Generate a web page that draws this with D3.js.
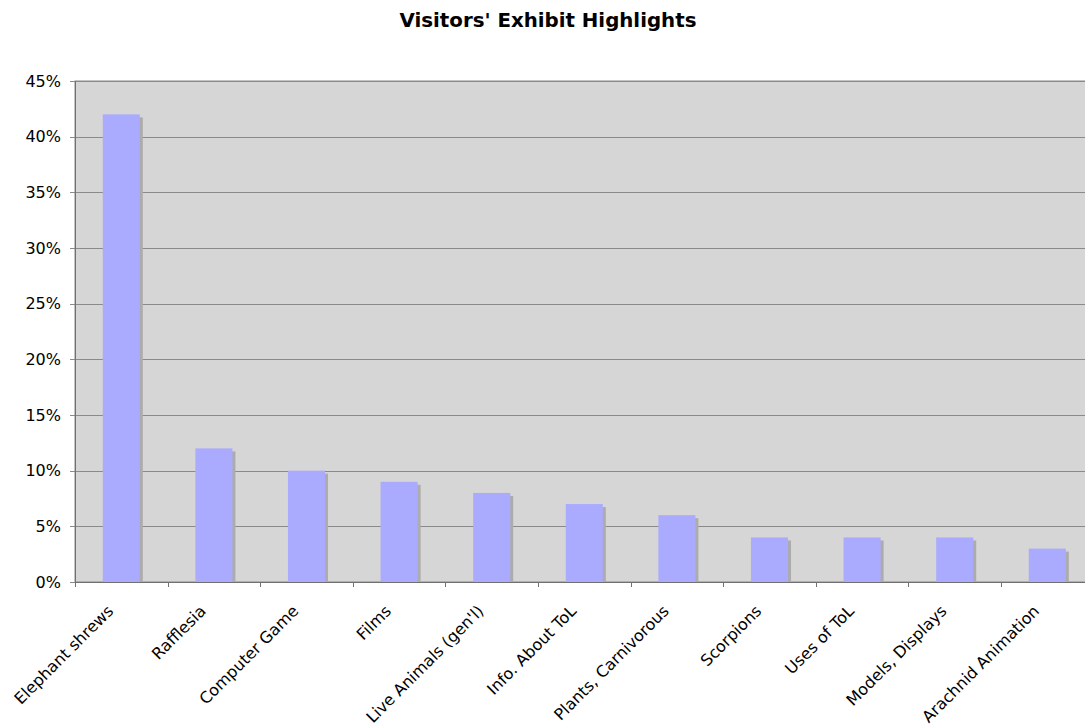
<!DOCTYPE html>
<html>
<head>
<meta charset="utf-8">
<script src="https://cdn.jsdelivr.net/npm/d3@7"></script>
<style>
  body { margin: 0; background: #fff; }
  svg { display: block; }
</style>
</head>
<body>
<script>
const categories = ['Elephant shrews', 'Rafflesia', 'Computer Game', 'Films', "Live Animals (gen'l)",
  'Info. About ToL', 'Plants, Carnivorous', 'Scorpions', 'Uses of ToL', 'Models, Displays', 'Arachnid Animation']
const values = [42, 12, 10, 9, 8, 7, 6, 4, 4, 4, 3]
const yTicks = [0, 5, 10, 15, 20, 25, 30, 35, 40, 45]

const width = 1085, height = 728
const plotLeft = 75, plotTop = 81, plotBottom = 582, plotRight = 75 + 11 * 92.6

const svg = d3.select('body').append('svg')
  .attr('width', width).attr('height', height)
  .attr('font-family', '"DejaVu Sans", Verdana, sans-serif')

svg.append('text')
  .attr('x', 548).attr('y', 27)
  .attr('text-anchor', 'middle')
  .attr('font-weight', 'bold')
  .attr('font-size', 19.8)
  .text("Visitors' Exhibit Highlights")

const x = d3.scaleBand().domain(categories).range([plotLeft, plotRight]).padding(0)
const y = d3.scaleLinear().domain([0, 45]).range([plotBottom, plotTop])

// plot background
svg.append('rect')
  .attr('x', plotLeft).attr('y', plotTop)
  .attr('width', plotRight - plotLeft).attr('height', plotBottom - plotTop)
  .attr('fill', '#d6d6d6')
  .attr('stroke', '#8a8a8a')

// gridlines
svg.append('g')
  .selectAll('line')
  .data(yTicks)
  .join('line')
  .attr('x1', plotLeft - 5).attr('x2', plotRight)
  .attr('y1', d => Math.round(y(d)) + 0.5).attr('y2', d => Math.round(y(d)) + 0.5)
  .attr('stroke', '#8a8a8a')

const bw = x.bandwidth() * 0.4
const bars = svg.append('g')

// shadows
bars.selectAll('rect.shadow')
  .data(values)
  .join('rect')
  .attr('class', 'shadow')
  .attr('x', (d, i) => x(categories[i]) + (x.bandwidth() - bw) / 2 + 3)
  .attr('y', d => y(d) + 3)
  .attr('width', bw)
  .attr('height', d => plotBottom - y(d) - 3)
  .attr('fill', '#acacac')

bars.selectAll('rect.bar')
  .data(values)
  .join('rect')
  .attr('class', 'bar')
  .attr('x', (d, i) => x(categories[i]) + (x.bandwidth() - bw) / 2)
  .attr('y', d => y(d))
  .attr('width', bw)
  .attr('height', d => plotBottom - y(d))
  .attr('fill', '#aaaaff')

// axis lines
svg.append('line')
  .attr('x1', plotLeft + 0.5).attr('x2', plotLeft + 0.5).attr('y1', plotTop).attr('y2', plotBottom + 5)
  .attr('stroke', '#707070')
svg.append('line')
  .attr('x1', plotLeft).attr('x2', plotRight).attr('y1', plotBottom + 0.5).attr('y2', plotBottom + 0.5)
  .attr('stroke', '#707070')

// x ticks between categories
svg.append('g')
  .selectAll('line')
  .data(d3.range(categories.length + 1))
  .join('line')
  .attr('x1', i => Math.round(plotLeft + i * x.step()) + 0.5)
  .attr('x2', i => Math.round(plotLeft + i * x.step()) + 0.5)
  .attr('y1', plotBottom).attr('y2', plotBottom + 5)
  .attr('stroke', '#707070')

// y labels
svg.append('g')
  .selectAll('text')
  .data(yTicks)
  .join('text')
  .attr('x', plotLeft - 14)
  .attr('y', d => y(d))
  .attr('dy', '0.36em')
  .attr('text-anchor', 'end')
  .attr('font-size', 16)
  .text(d => d + '%')

// x labels
svg.append('g')
  .selectAll('text')
  .data(categories)
  .join('text')
  .attr('transform', d => `translate(${x(d) + x.bandwidth() / 2 - 7},${plotBottom + 30}) rotate(-45)`)
  .attr('text-anchor', 'end')
  .attr('font-size', 16)
  .text(d => d)
</script>
</body>
</html>
